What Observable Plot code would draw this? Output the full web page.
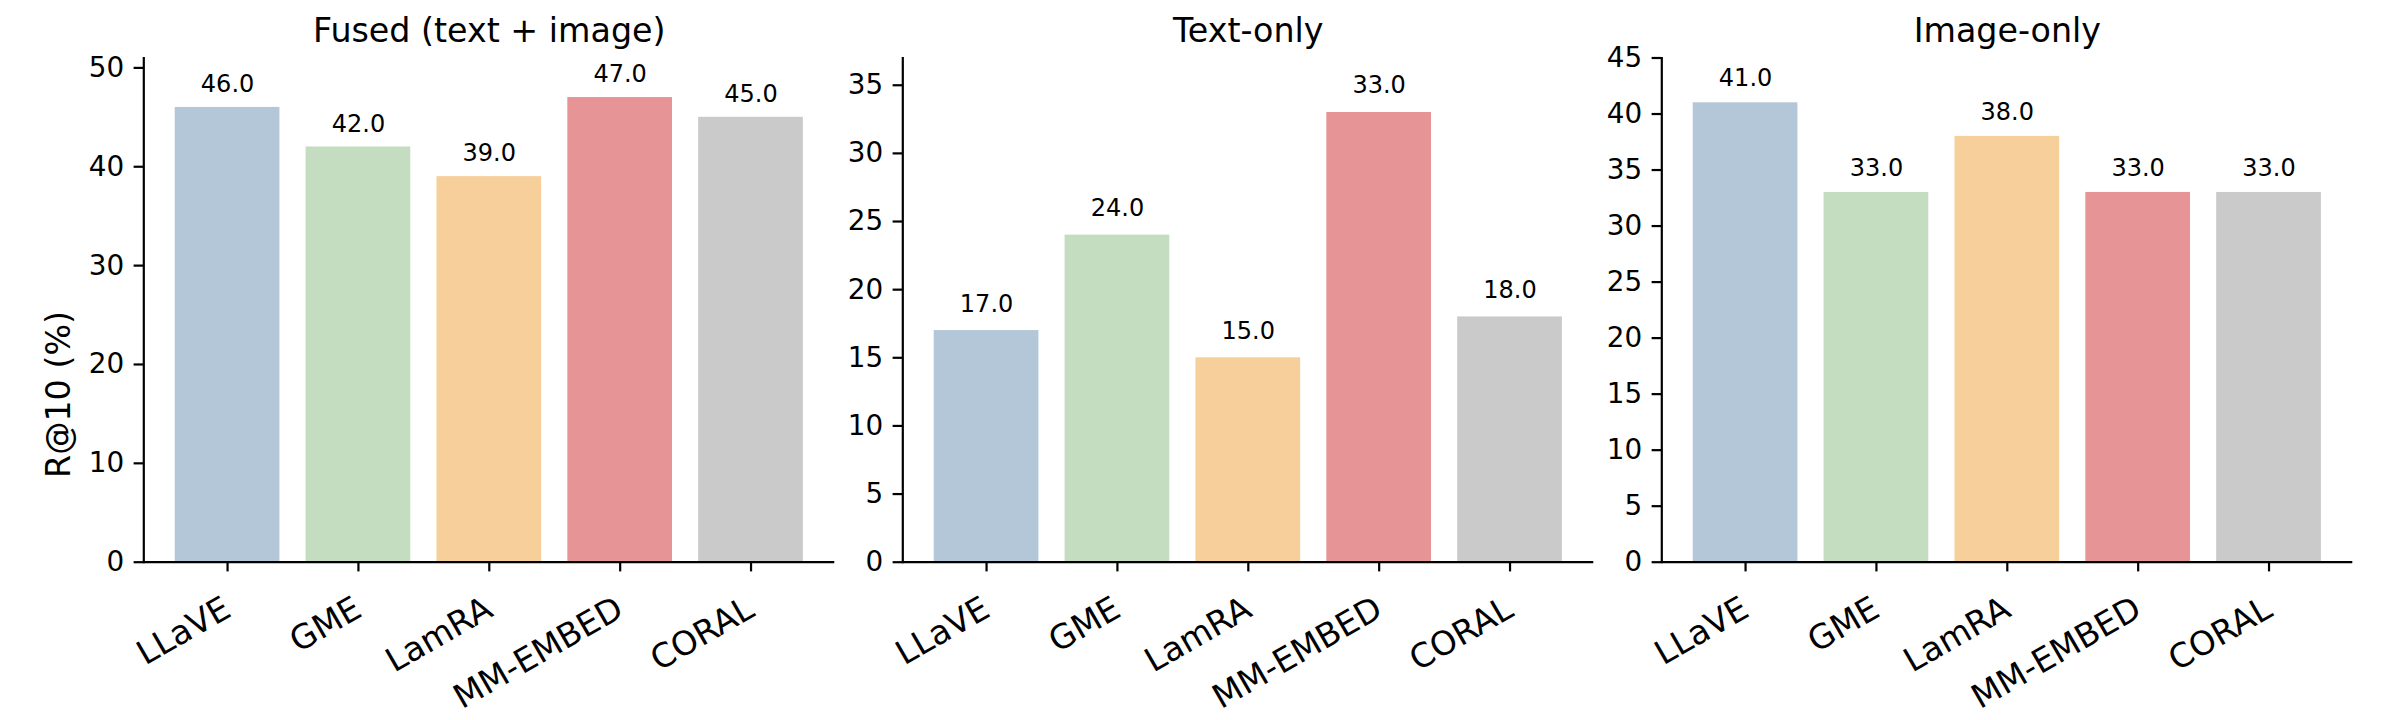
<!DOCTYPE html>
<html>
<head>
<meta charset="utf-8">
<script src="https://cdn.jsdelivr.net/npm/d3@7"></script>
<script src="https://cdn.jsdelivr.net/npm/@observablehq/plot@0.6"></script>
<style>
  html, body { margin: 0; padding: 0; background: white; }
  #chart { position: relative; width: 2400px; height: 720px; background: white; overflow: hidden; }
  #chart svg { position: absolute; top: 0; max-width: none; }
</style>
</head>
<body>
<div id="chart"></div>
<script>
const models = ["LLaVE", "GME", "LamRA", "MM-EMBED", "CORAL"];
const fused = [46, 42, 39, 47, 45];
const textOnly = [17, 24, 15, 33, 18];
const imageOnly = [41, 33, 38, 33, 33];
const panelTitles = ["Fused (text + image)", "Text-only", "Image-only"];
const barColors = ["#b3c7d8", "#c4dcc0", "#f6cf9b", "#e69496", "#cacaca"];
const yMax = [51, 37, 45];
const yTicks = [
  [0, 10, 20, 30, 40, 50],
  [0, 5, 10, 15, 20, 25, 30, 35],
  [0, 5, 10, 15, 20, 25, 30, 35, 40, 45]
];
const yLabel = "R@10 (%)";
const series = [fused, textOnly, imageOnly];
const panelLefts = [0, 759.4, 1518.4];

const chart = document.getElementById("chart");
const FONT = "DejaVu Sans, sans-serif";

series.forEach((values, i) => {
  const data = models.map((m, j) => ({model: m, value: values[j], color: barColors[j]}));
  const marks = [
    Plot.barY(data, {x: "model", y: "value", fill: "color"}),
    Plot.ruleY([0], {stroke: "black", strokeWidth: 2.2}),
    Plot.frame({anchor: "left", stroke: "black", strokeWidth: 2.2}),
    Plot.axisY({ticks: yTicks[i], tickSize: 9.7, tickPadding: 10, fontSize: 27.8, strokeWidth: 2.2, label: null}),
    Plot.axisX({tickSize: 9.7, tickPadding: 34, tickRotate: -30, textAnchor: "end", lineAnchor: "middle", fontSize: 33.3, strokeWidth: 2.2, label: null}),
    Plot.text(data, {x: "model", y: d => d.value + 1, text: d => d.value.toFixed(1), dy: -5.4, lineAnchor: "bottom", fontSize: 24, fill: "black"}),
    Plot.text([panelTitles[i]], {frameAnchor: "top", dy: -16.5, lineAnchor: "bottom", fontSize: 33.3, fill: "black"})
  ];
  if (i === 0) {
    marks.push(Plot.text([yLabel], {frameAnchor: "left", dx: -84, dy: 84.4, rotate: -90, lineAnchor: "middle", textAnchor: "middle", fontSize: 33.3, fill: "black"}));
  }
  const svg = Plot.plot({
    width: 874,
    height: 720,
    marginLeft: 143.3,
    marginRight: 39.7,
    marginTop: 57.5,
    marginBottom: 158.3,
    style: {background: "transparent", overflow: "visible", fontFamily: FONT, color: "black"},
    x: {domain: models, paddingInner: 0.2, paddingOuter: 0.24, round: false, label: null},
    y: {domain: [0, yMax[i]], label: null},
    color: {type: "identity"},
    marks
  });
  svg.style.left = panelLefts[i] + "px";
  chart.appendChild(svg);
});
</script>
</body>
</html>
